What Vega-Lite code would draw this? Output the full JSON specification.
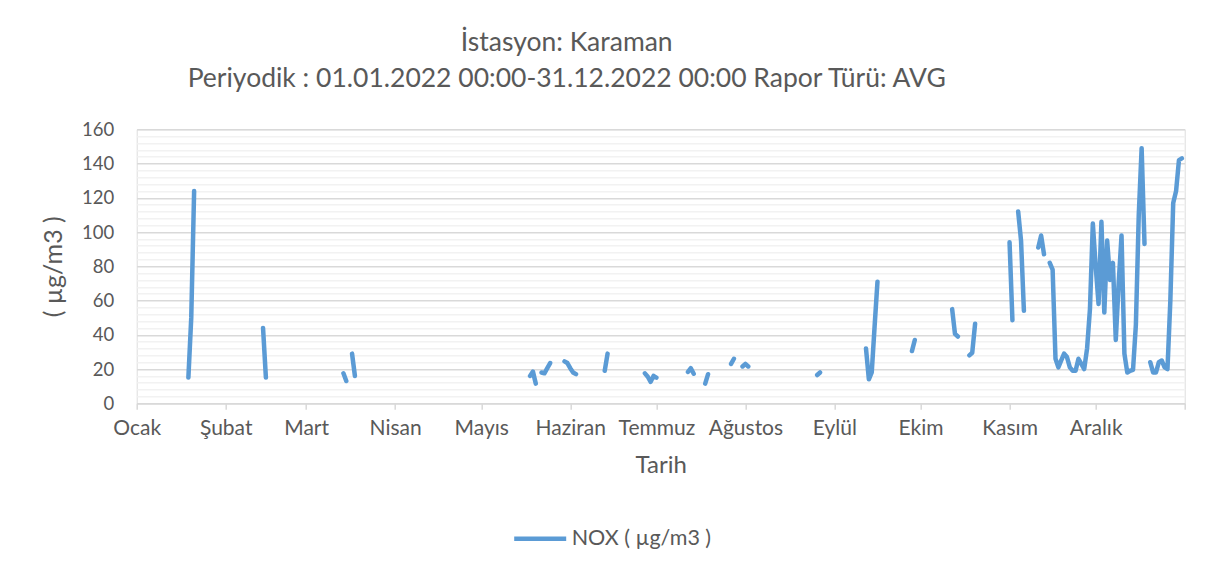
{
  "$schema": "https://vega.github.io/schema/vega-lite/v6.json",
  "width": 1048,
  "height": 274,
  "autosize": "none",
  "padding": {"left": 136.7, "top": 129.3, "right": 23.3, "bottom": 170.7},
  "background": "white",
  "title": {
    "text": ["İstasyon: Karaman", "Periyodik : 01.01.2022 00:00-31.12.2022 00:00 Rapor Türü: AVG"],
    "anchor": "middle",
    "frame": "group",
    "dx": -94,
    "offset": 28,
    "font": "Lato",
    "fontSize": 26.5,
    "fontWeight": "normal",
    "color": "#595959",
    "lineHeight": 36
  },
  "data": {
    "values": [
      {"date": "2022-01-19", "value": 15}, {"date": "2022-01-20", "value": 50}, {"date": "2022-01-21", "value": 124}, {"date": "2022-01-22", "value": null},
      {"date": "2022-02-14", "value": 44}, {"date": "2022-02-15", "value": 15}, {"date": "2022-02-16", "value": null},
      {"date": "2022-03-14", "value": 17.5}, {"date": "2022-03-15", "value": 13}, {"date": "2022-03-16", "value": null},
      {"date": "2022-03-17", "value": 29}, {"date": "2022-03-18", "value": 16}, {"date": "2022-03-19", "value": null},
      {"date": "2022-05-18", "value": 16}, {"date": "2022-05-19", "value": 18.5}, {"date": "2022-05-20", "value": 11.5}, {"date": "2022-05-21", "value": null},
      {"date": "2022-05-22", "value": 18}, {"date": "2022-05-23", "value": 17.5}, {"date": "2022-05-24", "value": 20.5}, {"date": "2022-05-25", "value": 23.5}, {"date": "2022-05-26", "value": null},
      {"date": "2022-05-30", "value": 24.5}, {"date": "2022-05-31", "value": 23.5}, {"date": "2022-06-01", "value": 20.5}, {"date": "2022-06-02", "value": 18}, {"date": "2022-06-03", "value": 17}, {"date": "2022-06-04", "value": null},
      {"date": "2022-06-13", "value": 19}, {"date": "2022-06-14", "value": 29}, {"date": "2022-06-15", "value": null},
      {"date": "2022-06-27", "value": 17.5}, {"date": "2022-06-28", "value": 15.5}, {"date": "2022-06-29", "value": 12.5}, {"date": "2022-06-30", "value": 16}, {"date": "2022-07-01", "value": 15}, {"date": "2022-07-02", "value": null},
      {"date": "2022-07-12", "value": 18.3}, {"date": "2022-07-13", "value": 20.5}, {"date": "2022-07-14", "value": 17.3}, {"date": "2022-07-15", "value": null},
      {"date": "2022-07-18", "value": 11.5}, {"date": "2022-07-19", "value": 17}, {"date": "2022-07-20", "value": null},
      {"date": "2022-07-27", "value": 23}, {"date": "2022-07-28", "value": 26}, {"date": "2022-07-29", "value": null},
      {"date": "2022-07-31", "value": 21.5}, {"date": "2022-08-01", "value": 23}, {"date": "2022-08-02", "value": 21.5}, {"date": "2022-08-03", "value": null},
      {"date": "2022-08-26", "value": 16.5}, {"date": "2022-08-27", "value": 18}, {"date": "2022-08-28", "value": null},
      {"date": "2022-09-12", "value": 32}, {"date": "2022-09-13", "value": 14}, {"date": "2022-09-14", "value": 18}, {"date": "2022-09-15", "value": 45}, {"date": "2022-09-16", "value": 71}, {"date": "2022-09-17", "value": null},
      {"date": "2022-09-28", "value": 30.5}, {"date": "2022-09-29", "value": 37}, {"date": "2022-09-30", "value": null},
      {"date": "2022-10-12", "value": 55}, {"date": "2022-10-13", "value": 40.5}, {"date": "2022-10-14", "value": 39}, {"date": "2022-10-15", "value": null},
      {"date": "2022-10-18", "value": 28}, {"date": "2022-10-19", "value": 29.5}, {"date": "2022-10-20", "value": 46.5}, {"date": "2022-10-21", "value": null},
      {"date": "2022-11-01", "value": 94}, {"date": "2022-11-02", "value": 48.5}, {"date": "2022-11-03", "value": null},
      {"date": "2022-11-04", "value": 112}, {"date": "2022-11-05", "value": 95}, {"date": "2022-11-06", "value": 54}, {"date": "2022-11-07", "value": null},
      {"date": "2022-11-11", "value": 91}, {"date": "2022-11-12", "value": 98}, {"date": "2022-11-13", "value": 87}, {"date": "2022-11-14", "value": null},
      {"date": "2022-11-15", "value": 82}, {"date": "2022-11-16", "value": 78}, {"date": "2022-11-17", "value": 26}, {"date": "2022-11-18", "value": 21},
      {"date": "2022-11-19", "value": 25}, {"date": "2022-11-20", "value": 29}, {"date": "2022-11-21", "value": 27}, {"date": "2022-11-22", "value": 21},
      {"date": "2022-11-23", "value": 19}, {"date": "2022-11-24", "value": 19}, {"date": "2022-11-25", "value": 26}, {"date": "2022-11-26", "value": 23},
      {"date": "2022-11-27", "value": 20}, {"date": "2022-11-28", "value": 32}, {"date": "2022-11-29", "value": 55}, {"date": "2022-11-30", "value": 105},
      {"date": "2022-12-01", "value": 80}, {"date": "2022-12-02", "value": 58}, {"date": "2022-12-03", "value": 106}, {"date": "2022-12-04", "value": 53},
      {"date": "2022-12-05", "value": 95}, {"date": "2022-12-06", "value": 72}, {"date": "2022-12-07", "value": 82}, {"date": "2022-12-08", "value": 37},
      {"date": "2022-12-09", "value": 70}, {"date": "2022-12-10", "value": 98}, {"date": "2022-12-11", "value": 29}, {"date": "2022-12-12", "value": 18},
      {"date": "2022-12-13", "value": 19}, {"date": "2022-12-14", "value": 19.5}, {"date": "2022-12-15", "value": 46}, {"date": "2022-12-16", "value": 110},
      {"date": "2022-12-17", "value": 149}, {"date": "2022-12-18", "value": 93}, {"date": "2022-12-19", "value": null},
      {"date": "2022-12-20", "value": 24}, {"date": "2022-12-21", "value": 18}, {"date": "2022-12-22", "value": 18}, {"date": "2022-12-23", "value": 24},
      {"date": "2022-12-24", "value": 25}, {"date": "2022-12-25", "value": 21}, {"date": "2022-12-26", "value": 20}, {"date": "2022-12-27", "value": 60},
      {"date": "2022-12-28", "value": 117}, {"date": "2022-12-29", "value": 124}, {"date": "2022-12-30", "value": 142}, {"date": "2022-12-31", "value": 143}
    ]
  },
  "transform": [{"calculate": "'NOX ( µg/m3 )'", "as": "series"}],
  "mark": {
    "type": "line",
    "strokeWidth": 4.5,
    "strokeCap": "round",
    "strokeJoin": "round",
    "invalid": "break-paths-show-domains"
  },
  "encoding": {
    "x": {
      "field": "date",
      "type": "temporal",
      "scale": {"type": "utc", "domain": [{"year": 2022, "month": 1, "date": 1, "utc": true}, {"year": 2023, "month": 1, "date": 1, "utc": true}]},
      "axis": {
        "title": "Tarih",
        "values": [
          {"year": 2022, "month": 1, "date": 1, "utc": true}, {"year": 2022, "month": 2, "date": 1, "utc": true},
          {"year": 2022, "month": 3, "date": 1, "utc": true}, {"year": 2022, "month": 4, "date": 1, "utc": true},
          {"year": 2022, "month": 5, "date": 1, "utc": true}, {"year": 2022, "month": 6, "date": 1, "utc": true},
          {"year": 2022, "month": 7, "date": 1, "utc": true}, {"year": 2022, "month": 8, "date": 1, "utc": true},
          {"year": 2022, "month": 9, "date": 1, "utc": true}, {"year": 2022, "month": 10, "date": 1, "utc": true},
          {"year": 2022, "month": 11, "date": 1, "utc": true}, {"year": 2022, "month": 12, "date": 1, "utc": true},
          {"year": 2023, "month": 1, "date": 1, "utc": true}
        ],
        "labelExpr": "utcyear(datum.value) > 2022 ? '' : ['Ocak','Şubat','Mart','Nisan','Mayıs','Haziran','Temmuz','Ağustos','Eylül','Ekim','Kasım','Aralık'][utcmonth(datum.value)]",
        "grid": false,
        "domainColor": "#d9d9d9",
        "domainWidth": 1.5,
        "tickColor": "#d9d9d9",
        "tickWidth": 1.5,
        "tickSize": 6,
        "labelPadding": 8,
        "labelFont": "Lato",
        "labelFontSize": 21,
        "labelColor": "#595959",
        "labelFlush": false,
        "labelOverlap": false,
        "titleFont": "Lato",
        "titleFontSize": 24,
        "titleFontWeight": "normal",
        "titleColor": "#595959",
        "titlePadding": 15
      }
    },
    "y": {
      "field": "value",
      "type": "quantitative",
      "scale": {"domain": [0, 160], "nice": false},
      "axis": {
        "title": "( µg/m3 )",
        "values": [0,4,8,12,16,20,24,28,32,36,40,44,48,52,56,60,64,68,72,76,80,84,88,92,96,100,104,108,112,116,120,124,128,132,136,140,144,148,152,156,160],
        "labelExpr": "datum.value % 20 === 0 ? datum.label : ''",
        "gridColor": {"condition": {"test": "datum.value % 20 === 0", "value": "#d9d9d9"}, "value": "#f2f2f2"},
        "gridWidth": 1.5,
        "domain": false,
        "ticks": false,
        "labelPadding": 23,
        "labelFont": "Lato",
        "labelFontSize": 18.5,
        "labelColor": "#595959",
        "labelOverlap": false,
        "titleFont": "Lato",
        "titleFontSize": 25,
        "titleFontWeight": "normal",
        "titleColor": "#595959",
        "titlePadding": 15
      }
    },
    "color": {
      "field": "series",
      "type": "nominal",
      "scale": {"range": ["#5b9bd5"]},
      "legend": {
        "title": null,
        "orient": "none",
        "legendX": 375,
        "legendY": 381,
        "symbolType": "stroke",
        "symbolSize": 2704,
        "symbolStrokeWidth": 4.5,
        "labelFont": "Lato",
        "labelFontSize": 21.5,
        "labelColor": "#595959",
        "labelOffset": 3
      }
    }
  }
}
